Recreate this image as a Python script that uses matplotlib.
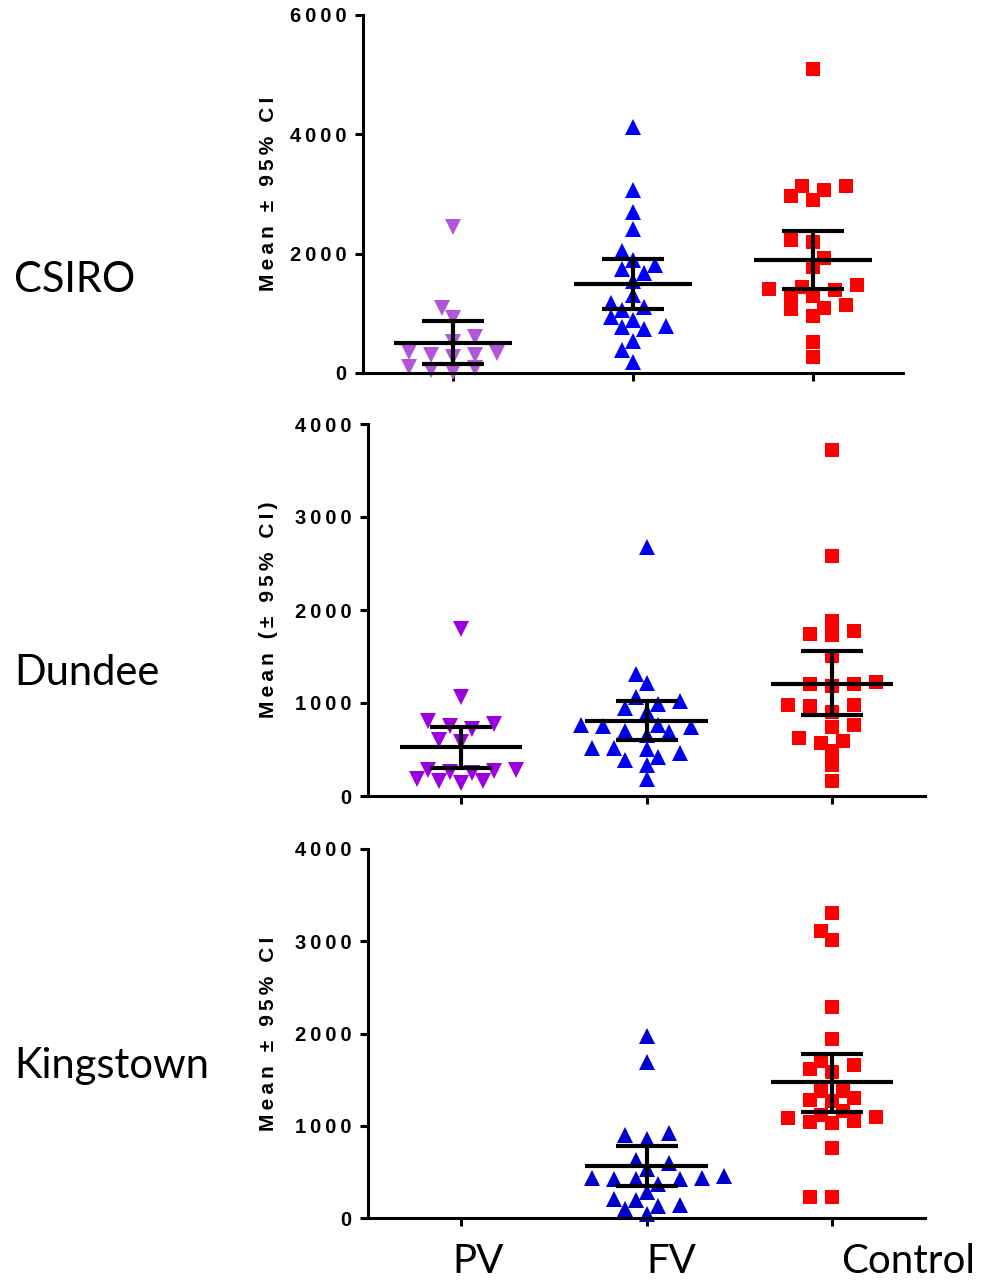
import numpy as np
import matplotlib.pyplot as plt

# site names and groups
sites = ['CSIRO', 'Dundee', 'Kingstown']
groups = ['PV', 'FV', 'Control']

# CSIRO
csiro_pv = [2452, 1089, 920, 605, 520, 352, 302, 268, 302, 335, 84, 17, 50, 100]
csiro_fv = [4129, 3067, 2704, 2413, 2045, 1894, 1738, 1810, 1670, 1542, 1307,
            1112, 1056, 1179, 933, 888, 788, 737, 765, 542, 385, 179]
csiro_ctrl = [5089, 3134, 2967, 2899, 3067, 3134, 2201, 2229, 1922, 1782, 1436,
              1391, 1402, 1475, 1307, 1291, 1140, 1067, 955, 1084, 525, 263]
csiro_mean = [508, 1497, 1899]
csiro_lo = [146, 1078, 1402]
csiro_hi = [877, 1916, 2385]

# Dundee
dundee_pv = [1796, 1062, 809, 748, 723, 773, 603, 585, 278, 267, 242, 159, 145,
             159, 181, 260, 278]
dundee_fv = [2681, 1308, 1218, 947, 1019, 990, 1062, 903, 683, 759, 748, 694,
             737, 759, 658, 520, 506, 459, 520, 387, 332, 423, 188]
dundee_ctrl = [3722, 2580, 1879, 1778, 1734, 1742, 1507, 1200, 1225, 1182, 1207,
               983, 976, 965, 903, 737, 766, 622, 567, 596, 484, 332, 159]
dundee_mean = [524, 809, 1207]
dundee_lo = [296, 603, 874]
dundee_hi = [741, 1026, 1554]

# Kingstown (no PV data)
kings_pv = []
kings_fv = [1973, 1696, 897, 857, 918, 594, 630, 533, 450, 425, 425, 371, 425,
            436, 436, 281, 198, 209, 126, 137, 101, 47]
kings_ctrl = [3305, 3114, 3010, 2290, 1944, 1656, 1703, 1584, 1613, 1379, 1379,
              1271, 1300, 1278, 1120, 1163, 1084, 1098, 1037, 1026, 1055, 760,
              227, 227]
kings_mean = [np.nan, 562, 1469]
kings_lo = [np.nan, 342, 1145]
kings_hi = [np.nan, 778, 1782]

ylabels = ['Mean ± 95% CI', 'Mean (± 95% CI)', 'Mean ± 95% CI']

W, H = 982, 1281
fig = plt.figure(figsize=(W / 100, H / 100), dpi=100)

# axes rects in pixels: left, top(ymax), right, bottom(y=0)
rects = [(363, 15, 903, 373), (368, 424, 925, 796), (368, 849, 925, 1218)]
ymaxs = [6000, 4000, 4000]
yticks = [[0, 2000, 4000, 6000], [0, 1000, 2000, 3000, 4000], [0, 1000, 2000, 3000, 4000]]

data = [(csiro_pv, csiro_fv, csiro_ctrl, csiro_mean, csiro_lo, csiro_hi),
        (dundee_pv, dundee_fv, dundee_ctrl, dundee_mean, dundee_lo, dundee_hi),
        (kings_pv, kings_fv, kings_ctrl, kings_mean, kings_lo, kings_hi)]

pv_colors = ['#b455d9', '#9d00e0', '#9d00e0']
fv_colors = ['#0000ff', '#0000f0', '#0000cc']
ctrl_color = '#ff0000'

fam = ['Liberation Sans', 'DejaVu Sans']


def swarm(vals, px_val, px_cat, step=11.0, r=13.0):
    # simple column-scatter layout in pixel space
    vals = np.asarray(vals, dtype=float)
    offs = np.zeros(len(vals))
    placed = []
    for i in np.argsort(vals):
        y = vals[i] * px_val
        for k in range(0, 40):
            free = []
            for c in ([0.0] if k == 0 else [-k * step, k * step]):
                if all((c - px) ** 2 + (y - py) ** 2 >= r * r for px, py in placed):
                    free.append(c)
            if free:
                if len(free) == 2:
                    nl = sum(1 for px, py in placed if px < 0 and abs(py - y) < 3 * r)
                    nr = sum(1 for px, py in placed if px > 0 and abs(py - y) < 3 * r)
                    c = free[0] if nl <= nr else free[1]
                else:
                    c = free[0]
                break
        placed.append((c, y))
        offs[i] = c / px_cat
    return offs


def spaced(s):
    # Prism-style letter spacing
    return '\u2009'.join(s)


for row in range(3):
    l, t, rgt, b = rects[row]
    ax = fig.add_axes([l / W, 1 - b / H, (rgt - l) / W, (b - t) / H])
    pv, fv, ctrl, mean, lo, hi = data[row]
    px_val = (b - t) / ymaxs[row]
    px_cat = (rgt - l) / 3.0

    series = [(pv, 'v', pv_colors[row], 11), (fv, '^', fv_colors[row], 11),
              (ctrl, 's', ctrl_color, 10.5)]
    for i, (vals, mk, col, ms) in enumerate(series):
        if len(vals) == 0:
            continue
        xs = i + swarm(vals, px_val, px_cat)
        ax.plot(xs, vals, ls='none', marker=mk, color=col, ms=ms, mew=0,
                clip_on=False, zorder=2)

    xs = np.arange(3)
    mean = np.array(mean, dtype=float)
    ax.errorbar(xs, mean, yerr=[mean - np.array(lo), np.array(hi) - mean],
                fmt='none', ecolor='black', elinewidth=3, capsize=22, capthick=3,
                zorder=4, clip_on=False)
    ax.hlines(mean, xs - 0.33, xs + 0.33, color='black', lw=3, zorder=4)

    ax.set_xlim(-0.5, 2.5)
    ax.set_ylim(0, ymaxs[row])
    ax.set_xticks(xs)
    ax.set_xticklabels([])
    ax.set_yticks(yticks[row])
    ax.set_yticklabels([spaced(str(v)) for v in yticks[row]],
                       family=fam, weight='bold', size=14.5)
    ax.tick_params(direction='out', length=6, width=2.2, pad=6)
    for s in ['top', 'right']:
        ax.spines[s].set_visible(False)
    for s in ['left', 'bottom']:
        ax.spines[s].set_linewidth(2.2)

    fig.text(268 / W, 1 - (t + b) / 2 / H, spaced(ylabels[row]), rotation=90,
             ha='center', va='center', family=fam, weight='bold', size=15)

# site labels on the left
for name, base in zip(sites, [292, 685, 1078]):
    fig.text(14 / W, 1 - base / H, name, ha='left', va='baseline',
             fontfamily='Lato', fontsize=30)

# group labels under the bottom panel
for name, cx in zip(groups, [478, 671, 908]):
    fig.text(cx / W, 1 - 1273 / H, name, ha='center', va='baseline',
             fontfamily='Lato', fontsize=29)

plt.savefig('out.png', dpi=100)
